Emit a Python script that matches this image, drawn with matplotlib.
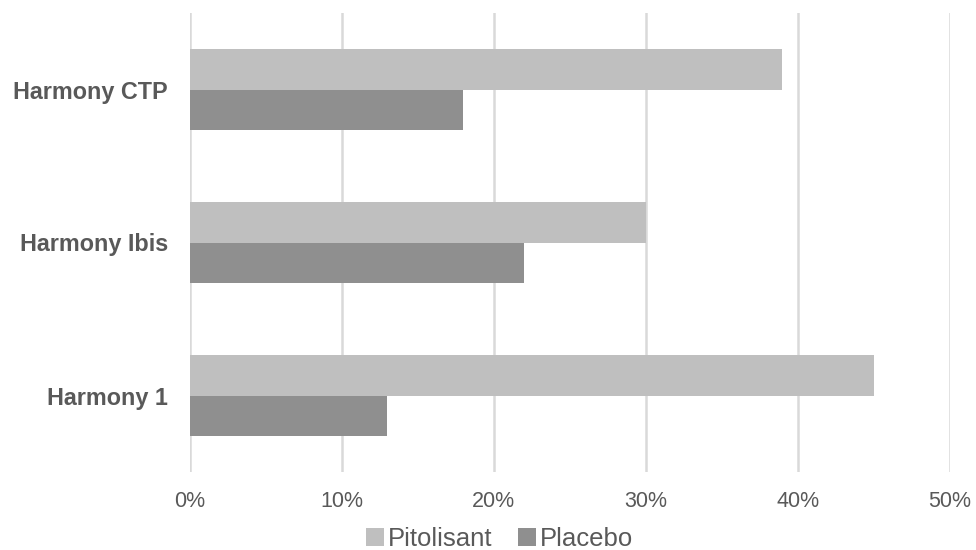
import numpy as np
import matplotlib
matplotlib.use("Agg")
import matplotlib.pyplot as plt
from matplotlib.ticker import PercentFormatter

# values (percent)
studies = ["Harmony 1", "Harmony Ibis", "Harmony CTP"]
pitolisant = [45, 30, 39]
placebo = [13, 22, 18]

light = "#BFBFBF"
dark = "#8F8F8F"
text_col = "#595959"

plt.rcParams["font.family"] = ["Liberation Sans", "DejaVu Sans"]

fig = plt.figure(figsize=(9.76, 5.5), dpi=100)
ax = fig.add_axes([190 / 976, 1 - 472 / 550, (949.5 - 190) / 976, (472 - 13) / 550])

y = np.arange(len(studies))
h = 0.263
ax.barh(y + h / 2, pitolisant, height=h, color=light, label="Pitolisant", zorder=3)
ax.barh(y - h / 2, placebo, height=h, color=dark, label="Placebo", zorder=3)

ax.set_xlim(0, 50)
ax.set_ylim(-0.5, 2.5)
ax.set_xticks(np.arange(0, 51, 10))
ax.xaxis.set_major_formatter(PercentFormatter(decimals=0))
ax.set_yticks(y)
ax.set_yticklabels(studies, fontweight="bold", fontsize=16.8, color=text_col)
ax.tick_params(axis="x", labelsize=15.5, labelcolor=text_col, length=0, pad=14)
ax.tick_params(axis="y", length=0, pad=16)

ax.grid(axis="x", color="#D9D9D9", linewidth=1.8, zorder=0)
for s in ax.spines.values():
    s.set_visible(False)

leg = fig.legend(loc="center", bbox_to_anchor=(500 / 976, 1 - 539 / 550), ncol=2,
                 frameon=False, fontsize=18.5, handlelength=0.7, handleheight=0.7,
                 handletextpad=0.15, columnspacing=1.0)
for t in leg.get_texts():
    t.set_color(text_col)

fig.savefig("out.png", dpi=100)
